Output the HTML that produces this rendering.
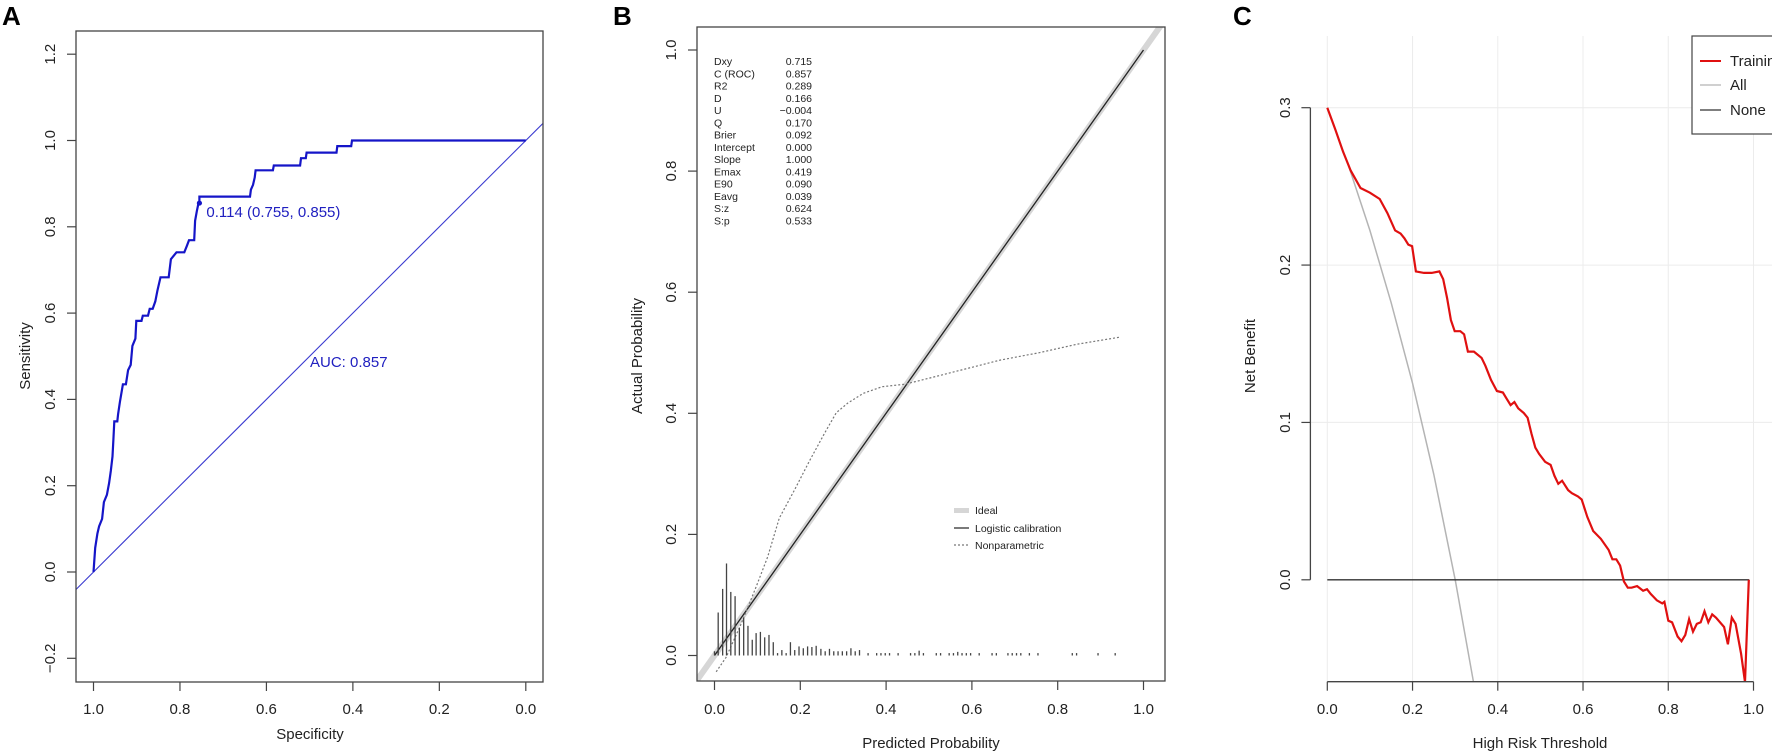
<!DOCTYPE html>
<html><head><meta charset="utf-8"><style>
html,body{margin:0;padding:0;background:#fff;}
svg{display:block;font-family:"Liberation Sans",Arial,sans-serif;}
</style></head><body>
<svg id="fig" width="1772" height="752" viewBox="0 0 1772 752" xmlns="http://www.w3.org/2000/svg">
<g id="pa"></g>
<g id="pb"></g>
<g id="pc"></g>
</svg>
<script>
// ---- Panel A data ----
const rocSpec=[1.0,0.996,0.991,0.987,0.980,0.976,0.969,0.964,0.960,0.956,0.954,0.952,0.945,0.943,0.939,0.932,0.925,0.920,0.914,0.910,0.903,0.901,0.889,0.886,0.874,0.870,0.863,0.857,0.852,0.845,0.826,0.821,0.808,0.790,0.784,0.779,0.767,0.765,0.761,0.757,0.755,0.755,0.736,0.638,0.636,0.631,0.627,0.625,0.585,0.583,0.522,0.520,0.509,0.507,0.438,0.436,0.404,0.402,0.0];
const rocSens=[0.0,0.056,0.089,0.106,0.123,0.162,0.179,0.206,0.234,0.268,0.307,0.349,0.349,0.366,0.394,0.435,0.435,0.468,0.480,0.524,0.541,0.582,0.582,0.594,0.594,0.610,0.610,0.627,0.653,0.683,0.683,0.725,0.741,0.741,0.756,0.769,0.769,0.814,0.836,0.855,0.855,0.870,0.870,0.870,0.886,0.897,0.914,0.931,0.931,0.942,0.942,0.959,0.959,0.972,0.972,0.987,0.987,1.0,1.0];
const rocBest=[0.755,0.855];
const aTicksX=[1.0,0.8,0.6,0.4,0.2,0.0];
const aTicksY=[-0.2,0.0,0.2,0.4,0.6,0.8,1.0,1.2];
// ---- Panel B data ----
const statNames=["Dxy","C (ROC)","R2","D","U","Q","Brier","Intercept","Slope","Emax","E90","Eavg","S:z","S:p"];
const statVals=["0.715","0.857","0.289","0.166","\u22120.004","0.170","0.092","0.000","1.000","0.419","0.090","0.039","0.624","0.533"];
const npX=[0.004,0.027,0.062,0.098,0.124,0.151,0.187,0.222,0.258,0.284,0.311,0.347,0.391,0.444,0.489,0.578,0.667,0.756,0.844,0.947];
const npY=[-0.027,-0.003,0.052,0.115,0.163,0.227,0.274,0.322,0.369,0.401,0.417,0.433,0.444,0.448,0.456,0.472,0.488,0.500,0.514,0.526];
const histX=[0.0,0.0086,0.019,0.028,0.038,0.048,0.058,0.068,0.078,0.088,0.097,0.107,0.117,0.127,0.137,0.147,0.157,0.167,0.177,0.187,0.197,0.207,0.217,0.227,0.237,0.248,0.258,0.268,0.278,0.288,0.298,0.308,0.318,0.328,0.338,0.358,0.378,0.388,0.398,0.408,0.428,0.457,0.467,0.477,0.487,0.517,0.527,0.547,0.557,0.567,0.577,0.587,0.597,0.617,0.647,0.657,0.684,0.694,0.704,0.714,0.734,0.754,0.834,0.844,0.894,0.934];
const histH=[0.007,0.071,0.110,0.152,0.105,0.098,0.046,0.062,0.049,0.026,0.037,0.039,0.030,0.034,0.022,0.004,0.009,0.004,0.022,0.009,0.015,0.012,0.015,0.014,0.016,0.011,0.007,0.011,0.007,0.007,0.007,0.007,0.012,0.007,0.009,0.004,0.004,0.004,0.004,0.004,0.004,0.004,0.004,0.008,0.004,0.004,0.004,0.004,0.004,0.006,0.004,0.004,0.004,0.004,0.004,0.004,0.004,0.004,0.004,0.004,0.004,0.004,0.004,0.004,0.004,0.004];
const bTicks=[0.0,0.2,0.4,0.6,0.8,1.0];
// ---- Panel C data ----
const dcaT=[0.000,0.019,0.037,0.055,0.078,0.100,0.123,0.141,0.159,0.172,0.181,0.190,0.199,0.208,0.227,0.245,0.263,0.272,0.281,0.290,0.299,0.312,0.321,0.330,0.344,0.362,0.371,0.384,0.398,0.412,0.421,0.430,0.439,0.448,0.461,0.470,0.479,0.488,0.497,0.511,0.524,0.533,0.542,0.551,0.565,0.574,0.588,0.597,0.610,0.624,0.642,0.660,0.669,0.678,0.687,0.696,0.705,0.714,0.727,0.741,0.750,0.759,0.773,0.786,0.791,0.800,0.809,0.822,0.831,0.840,0.849,0.858,0.867,0.876,0.885,0.894,0.903,0.912,0.931,0.940,0.949,0.958,0.971,0.980,0.989];
const dcaNB=[0.300,0.286,0.272,0.260,0.249,0.246,0.242,0.233,0.222,0.220,0.217,0.213,0.212,0.196,0.195,0.195,0.196,0.191,0.179,0.165,0.158,0.158,0.156,0.145,0.145,0.141,0.136,0.127,0.120,0.119,0.115,0.111,0.113,0.109,0.106,0.103,0.093,0.084,0.080,0.075,0.073,0.066,0.061,0.063,0.057,0.055,0.053,0.051,0.040,0.031,0.026,0.019,0.013,0.013,0.009,-0.001,-0.005,-0.005,-0.004,-0.007,-0.006,-0.009,-0.013,-0.015,-0.014,-0.026,-0.027,-0.036,-0.039,-0.035,-0.025,-0.033,-0.028,-0.027,-0.020,-0.027,-0.022,-0.024,-0.030,-0.041,-0.024,-0.028,-0.047,-0.065,0.000];
const allT=[0.0,0.05,0.10,0.15,0.20,0.25,0.30,0.343];
const allNB=[0.300,0.263,0.222,0.176,0.125,0.067,0.0,-0.065];
const cTicksX=[0.0,0.2,0.4,0.6,0.8,1.0];
const cTicksY=[0.0,0.1,0.2,0.3];

const NS="http://www.w3.org/2000/svg";
function mk(parent,tag,attrs,text){const e=document.createElementNS(NS,tag);for(const k in attrs)e.setAttribute(k,attrs[k]);if(text!==undefined)e.textContent=text;parent.appendChild(e);return e;}
function lin(d0,d1,r0,r1){return v=>r0+(v-d0)*(r1-r0)/(d1-d0);}
function pts(xs,ys,sx,sy){return xs.map((v,i)=>sx(v).toFixed(1)+","+sy(ys[i]).toFixed(1)).join(" ");}

// ===== Panel A =====
(function(){
const g=document.getElementById('pa');
const sx=lin(1,0,93.5,525.8), sy=lin(0,1,572,140.5);
const L=76,R=543,T=31,B=682;
let t=mk(g,'text',{x:2,y:25,'font-size':26,'font-weight':'bold'},'A');

const clip=mk(g,'clipPath',{id:'clipA'});mk(clip,'rect',{x:L,y:T,width:R-L,height:B-T});
const s1=1-(L-93.5)/(525.8-93.5), s2=1-(R-93.5)/(525.8-93.5);
let d=mk(g,'line',{x1:sx(s1),y1:sy(1-s1),x2:sx(s2),y2:sy(1-s2),stroke:'#3a3ad0','stroke-width':1.1,'clip-path':'url(#clipA)'});

let c=mk(g,'polyline',{points:pts(rocSpec,rocSens,sx,sy),fill:'none',stroke:'#1515c8','stroke-width':2.2});

let p=mk(g,'circle',{cx:sx(rocBest[0]),cy:sy(rocBest[1]),r:2.6,fill:'#1515c8'});

t=mk(g,'text',{x:sx(rocBest[0])+7,y:sy(rocBest[1])+14,'font-size':15,fill:'#2020c0'},'0.114 (0.755, 0.855)');

t=mk(g,'text',{x:310,y:367,'font-size':15,fill:'#2020c0'},'AUC: 0.857');

let box=mk(g,'rect',{x:L,y:T,width:R-L,height:B-T,fill:'none',stroke:'#444','stroke-width':1.3});

aTicksX.forEach(v=>{const x=sx(v);mk(g,'line',{x1:x,y1:B,x2:x,y2:B+9,stroke:'#444','stroke-width':1.2});
 const tl=mk(g,'text',{x:x,y:714,'font-size':15,'text-anchor':'middle',fill:'#222'},v.toFixed(1));
 });
aTicksY.forEach(v=>{const y=sy(v);mk(g,'line',{x1:L,y1:y,x2:L-9,y2:y,stroke:'#444','stroke-width':1.2});
 const tl=mk(g,'text',{x:0,y:0,'font-size':15,'text-anchor':'middle',fill:'#222',transform:`translate(55,${y}) rotate(-90)`},(v<0?'\u2212':'')+Math.abs(v).toFixed(1));
 });
t=mk(g,'text',{x:310,y:739,'font-size':15,'text-anchor':'middle',fill:'#222'},'Specificity');

t=mk(g,'text',{x:0,y:0,'font-size':15,'text-anchor':'middle',fill:'#222',transform:'translate(30,356) rotate(-90)'},'Sensitivity');

})();

// ===== Panel B =====
(function(){
const g=document.getElementById('pb');
const sx=lin(0,1,714.5,1143.5), sy=lin(0,1,655.5,50);
const L=697,R=1165,T=27,B=681;
let t=mk(g,'text',{x:613,y:25,'font-size':26,'font-weight':'bold'},'B');

const clip=mk(g,'clipPath',{id:'clipB'});mk(clip,'rect',{x:L,y:T,width:R-L,height:B-T});
const x0=(L-714.5)/429, x1=(R-714.5)/429;
let id=mk(g,'line',{x1:sx(x0),y1:sy(x0),x2:sx(x1),y2:sy(x1),stroke:'#d6d6d6','stroke-width':6,'clip-path':'url(#clipB)'});

let lc=mk(g,'line',{x1:sx(0),y1:sy(0),x2:sx(1),y2:sy(1),stroke:'#222','stroke-width':1.3});

let np=mk(g,'polyline',{points:pts(npX,npY,sx,sy),fill:'none',stroke:'#777','stroke-width':1.2,'stroke-dasharray':'2,2','clip-path':'url(#clipB)'});

histX.forEach((v,i)=>{const h=mk(g,'line',{x1:sx(v),y1:sy(0),x2:sx(v),y2:sy(histH[i]),stroke:'#444','stroke-width':1.3});
 });
statNames.forEach((n,i)=>{const y=65+i*12.25;
 const a=mk(g,'text',{x:714,y:y,'font-size':10.5,fill:'#222'},n);
 
 const b=mk(g,'text',{x:812,y:y,'font-size':10.5,fill:'#222','text-anchor':'end'},statVals[i]);
 });
const lg=mk(g,'g',{});
mk(lg,'line',{x1:954,y1:510.5,x2:969,y2:510.5,stroke:'#d6d6d6','stroke-width':5});
mk(lg,'text',{x:975,y:514,'font-size':10.5,fill:'#222'},'Ideal');
mk(lg,'line',{x1:954,y1:528,x2:969,y2:528,stroke:'#222','stroke-width':1.2});
mk(lg,'text',{x:975,y:532,'font-size':10.5,fill:'#222'},'Logistic calibration');
mk(lg,'line',{x1:954,y1:545,x2:969,y2:545,stroke:'#777','stroke-width':1.2,'stroke-dasharray':'2,2'});
mk(lg,'text',{x:975,y:549,'font-size':10.5,fill:'#222'},'Nonparametric');
let box=mk(g,'rect',{x:L,y:T,width:R-L,height:B-T,fill:'none',stroke:'#444','stroke-width':1.3});

bTicks.forEach(v=>{const x=sx(v);mk(g,'line',{x1:x,y1:B,x2:x,y2:B+9,stroke:'#444','stroke-width':1.2});
 const tl=mk(g,'text',{x:x,y:714,'font-size':15,'text-anchor':'middle',fill:'#222'},v.toFixed(1));
 
 const y=sy(v);mk(g,'line',{x1:L,y1:y,x2:L-9,y2:y,stroke:'#444','stroke-width':1.2});
 const tl2=mk(g,'text',{x:0,y:0,'font-size':15,'text-anchor':'middle',fill:'#222',transform:`translate(676,${y}) rotate(-90)`},v.toFixed(1));
 });
t=mk(g,'text',{x:931,y:748,'font-size':15,'text-anchor':'middle',fill:'#222'},'Predicted Probability');

t=mk(g,'text',{x:0,y:0,'font-size':15,'text-anchor':'middle',fill:'#222',transform:'translate(642,356) rotate(-90)'},'Actual Probability');

})();

// ===== Panel C =====
(function(){
const g=document.getElementById('pc');
const sx=lin(0,1,1327.3,1753.5), sy=lin(0,0.3,579.8,107.7);
const AX=1310.4, AY=681.7, T=36;
let t=mk(g,'text',{x:1233,y:25,'font-size':26,'font-weight':'bold'},'C');

const clip=mk(g,'clipPath',{id:'clipC'});mk(clip,'rect',{x:AX,y:T,width:1772-AX,height:AY-T});
cTicksX.forEach(v=>{const gl=mk(g,'line',{x1:sx(v),y1:T,x2:sx(v),y2:AY,stroke:'#ececec','stroke-width':1});
 });
cTicksY.slice(1).forEach(v=>{const gl=mk(g,'line',{x1:AX,y1:sy(v),x2:1772,y2:sy(v),stroke:'#ececec','stroke-width':1});
 });
let al=mk(g,'polyline',{points:pts(allT,allNB,sx,sy),fill:'none',stroke:'#b4b4b4','stroke-width':1.5,'clip-path':'url(#clipC)'});

let nl=mk(g,'line',{x1:sx(0),y1:sy(0),x2:sx(0.99),y2:sy(0),stroke:'#333','stroke-width':1.3});

let tr=mk(g,'polyline',{points:pts(dcaT,dcaNB,sx,sy),fill:'none',stroke:'#e01010','stroke-width':2.2,'clip-path':'url(#clipC)'});

mk(g,'line',{x1:sx(0),y1:AY,x2:sx(1),y2:AY,stroke:'#444','stroke-width':1.3});
mk(g,'line',{x1:AX,y1:sy(0),x2:AX,y2:sy(0.3),stroke:'#444','stroke-width':1.3});
cTicksX.forEach(v=>{const x=sx(v);mk(g,'line',{x1:x,y1:AY,x2:x,y2:AY+9,stroke:'#444','stroke-width':1.2});
 const tl=mk(g,'text',{x:x,y:714,'font-size':15,'text-anchor':'middle',fill:'#222'},v.toFixed(1));
 });
cTicksY.forEach(v=>{const y=sy(v);mk(g,'line',{x1:AX,y1:y,x2:AX-9,y2:y,stroke:'#444','stroke-width':1.2});
 const tl=mk(g,'text',{x:0,y:0,'font-size':15,'text-anchor':'middle',fill:'#222',transform:`translate(1290,${y}) rotate(-90)`},v.toFixed(1));
 });
const lg=mk(g,'g',{});
mk(lg,'rect',{x:1692,y:36,width:90,height:98,fill:'#fff',stroke:'#444','stroke-width':1.2});
mk(lg,'line',{x1:1700,y1:61,x2:1721,y2:61,stroke:'#e01010','stroke-width':2});
mk(lg,'text',{x:1730,y:66,'font-size':15,fill:'#222'},'Training');
mk(lg,'line',{x1:1700,y1:85,x2:1721,y2:85,stroke:'#b4b4b4','stroke-width':1.2});
mk(lg,'text',{x:1730,y:90,'font-size':15,fill:'#222'},'All');
mk(lg,'line',{x1:1700,y1:110,x2:1721,y2:110,stroke:'#333','stroke-width':1.2});
mk(lg,'text',{x:1730,y:115,'font-size':15,fill:'#222'},'None');
t=mk(g,'text',{x:1540,y:748,'font-size':15,'text-anchor':'middle',fill:'#222'},'High Risk Threshold');

t=mk(g,'text',{x:0,y:0,'font-size':15,'text-anchor':'middle',fill:'#222',transform:'translate(1255,356) rotate(-90)'},'Net Benefit');

})();
</script>
</body></html>
